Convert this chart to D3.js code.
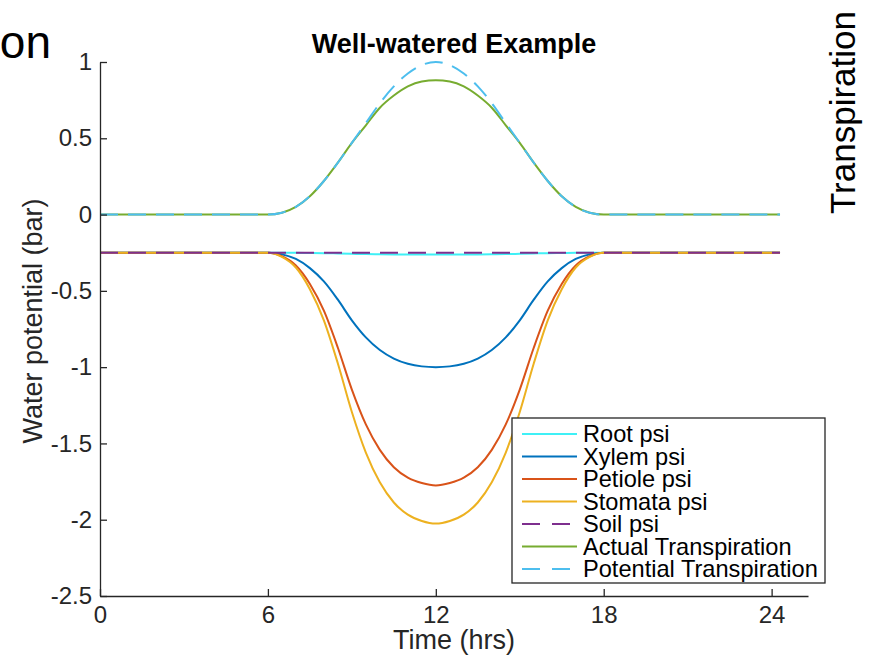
<!DOCTYPE html>
<html>
<head>
<meta charset="utf-8">
<script src="https://cdn.jsdelivr.net/npm/d3@7"></script>
<style>
  body { margin: 0; background: #fff; }
  svg { font-family: "Liberation Sans", Arial, Helvetica, sans-serif; }
  .axis path, .axis line { stroke: #262626; stroke-width: 1.3; }
  .axis text { fill: #262626; font-size: 24px; }
</style>
</head>
<body>
<div id="chart"></div>
<script>
// Data
var times = [0, 1, 2, 3, 4, 5, 6, 6.5, 7, 7.5, 8, 8.5, 9, 9.5, 10, 10.5, 11, 11.5, 12,
    12.5, 13, 13.5, 14, 14.5, 15, 15.5, 16, 16.5, 17, 17.5, 18, 19, 20, 21, 22, 23, 24, 24.3];

var rootPsi = [-0.25, -0.25, -0.25, -0.25, -0.25, -0.25,
    -0.25, -0.2502, -0.251, -0.252, -0.253, -0.255, -0.257, -0.259, -0.26, -0.261, -0.262, -0.262, -0.262,
    -0.262, -0.262, -0.261, -0.26, -0.259, -0.257, -0.255, -0.253, -0.252, -0.251, -0.2502, -0.25,
    -0.25, -0.25, -0.25, -0.25, -0.25, -0.25, -0.25];

var xylemPsi = [-0.25, -0.25, -0.25, -0.25, -0.25, -0.25,
    -0.25, -0.261, -0.291, -0.351, -0.438, -0.558, -0.693, -0.805, -0.888, -0.944, -0.978, -0.995, -1.0,
    -0.995, -0.978, -0.944, -0.888, -0.805, -0.693, -0.558, -0.438, -0.351, -0.291, -0.261, -0.25,
    -0.25, -0.25, -0.25, -0.25, -0.25, -0.25, -0.25];

var petiolePsi = [-0.25, -0.25, -0.25, -0.25, -0.25, -0.25,
    -0.25, -0.273, -0.334, -0.455, -0.63, -0.873, -1.147, -1.375, -1.542, -1.656, -1.724, -1.759, -1.775,
    -1.759, -1.724, -1.656, -1.542, -1.375, -1.147, -0.873, -0.63, -0.455, -0.334, -0.273, -0.25,
    -0.25, -0.25, -0.25, -0.25, -0.25, -0.25, -0.25];

var stomataPsi = [-0.25, -0.25, -0.25, -0.25, -0.25, -0.25,
    -0.25, -0.277, -0.347, -0.489, -0.693, -0.976, -1.294, -1.56, -1.755, -1.887, -1.967, -2.008, -2.025,
    -2.008, -1.967, -1.887, -1.755, -1.56, -1.294, -0.976, -0.693, -0.489, -0.347, -0.277, -0.25,
    -0.25, -0.25, -0.25, -0.25, -0.25, -0.25, -0.25];

var soilPsi = [-0.25, -0.25, -0.25, -0.25, -0.25, -0.25,
    -0.25, -0.25, -0.25, -0.25, -0.25, -0.25, -0.25, -0.25, -0.25, -0.25, -0.25, -0.25, -0.25,
    -0.25, -0.25, -0.25, -0.25, -0.25, -0.25, -0.25, -0.25, -0.25, -0.25, -0.25, -0.25,
    -0.25, -0.25, -0.25, -0.25, -0.25, -0.25, -0.25];

var actualT = [0, 0, 0, 0, 0, 0,
    0, 0.012, 0.05, 0.12, 0.22, 0.34, 0.47, 0.585, 0.70, 0.78, 0.84, 0.872, 0.88,
    0.872, 0.84, 0.78, 0.70, 0.585, 0.47, 0.34, 0.22, 0.12, 0.05, 0.012, 0,
    0, 0, 0, 0, 0, 0, 0];

var potentialT = [0, 0, 0, 0, 0, 0,
    0, 0.012, 0.05, 0.12, 0.22, 0.34, 0.47, 0.6, 0.73, 0.84, 0.925, 0.98, 1.0,
    0.98, 0.925, 0.84, 0.73, 0.6, 0.47, 0.34, 0.22, 0.12, 0.05, 0.012, 0,
    0, 0, 0, 0, 0, 0, 0];

var seriesNames = ["Root psi", "Xylem psi", "Petiole psi", "Stomata psi", "Soil psi",
    "Actual Transpiration", "Potential Transpiration"];
var seriesValues = [rootPsi, xylemPsi, petiolePsi, stomataPsi, soilPsi, actualT, potentialT];
var seriesColors = ["#3ff0f6", "#0072bd", "#d95319", "#edb120", "#7e2f8e", "#77ac30", "#4dbeee"];
var seriesDashed = [false, false, false, false, true, false, true];

var xTicks = [0, 6, 12, 18, 24];
var yTicks = [-2.5, -2, -1.5, -1, -0.5, 0, 0.5, 1];

// SVG area
var svgWidth = 871;
var svgHeight = 657;

var chartMargin = { top: 62, right: 63, bottom: 61, left: 100 };
var chartWidth = svgWidth - chartMargin.left - chartMargin.right;
var chartHeight = svgHeight - chartMargin.top - chartMargin.bottom;

var svg = d3.select("#chart")
    .append("svg")
    .attr("width", svgWidth)
    .attr("height", svgHeight);

// leftover labels cropped from neighbouring panels
svg.append("text")
    .attr("x", 51)
    .attr("y", 58)
    .attr("text-anchor", "end")
    .attr("font-size", "46px")
    .attr("fill", "#000")
    .text("on");

svg.append("text")
    .attr("transform", "translate(855, 214) rotate(-90)")
    .attr("font-size", "35px")
    .attr("fill", "#000")
    .text("Transpiration");

var chartGroup = svg.append("g")
    .attr("transform", `translate(${chartMargin.left}, ${chartMargin.top})`);

var xScale = d3.scaleLinear()
    .domain([0, 25.3])
    .range([0, chartWidth]);

var yScale = d3.scaleLinear()
    .domain([-2.5, 1])
    .range([chartHeight, 0]);

// axes, ticks pointing inward like matlab
var bottomAxis = d3.axisBottom(xScale)
    .tickValues(xTicks)
    .tickSizeInner(-7)
    .tickSizeOuter(0)
    .tickPadding(10)
    .tickFormat(d => d);

var leftAxis = d3.axisLeft(yScale)
    .tickValues(yTicks)
    .tickSizeInner(-7)
    .tickSizeOuter(0)
    .tickPadding(8)
    .tickFormat(d => String(d));

// lines
var line = d3.line()
    .x(d => xScale(d[0]))
    .y(d => yScale(d[1]))
    .curve(d3.curveMonotoneX);

seriesValues.forEach(function (vals, i) {
    var pts = times.map((t, j) => [t, vals[j]]);
    chartGroup.append("path")
        .datum(pts)
        .attr("d", line)
        .attr("fill", "none")
        .attr("stroke", seriesColors[i])
        .attr("stroke-width", 2)
        .attr("stroke-dasharray", seriesDashed[i] ? "18,10" : null);
});

chartGroup.append("g")
    .attr("class", "axis")
    .attr("transform", `translate(0, ${chartHeight})`)
    .call(bottomAxis);

chartGroup.append("g")
    .attr("class", "axis")
    .call(leftAxis);

// title and axis labels, centred on the axes box
chartGroup.append("text")
    .attr("x", chartWidth / 2)
    .attr("y", -9)
    .attr("text-anchor", "middle")
    .attr("font-size", "27px")
    .attr("font-weight", "bold")
    .attr("fill", "#000")
    .text("Well-watered Example");

chartGroup.append("text")
    .attr("x", chartWidth / 2)
    .attr("y", chartHeight + 53)
    .attr("text-anchor", "middle")
    .attr("font-size", "27px")
    .attr("fill", "#262626")
    .text("Time (hrs)");

chartGroup.append("text")
    .attr("transform", "rotate(-90)")
    .attr("x", -(chartHeight / 2) + 8)
    .attr("y", -58)
    .attr("text-anchor", "middle")
    .attr("font-size", "27px")
    .attr("fill", "#262626")
    .text("Water potential (bar)");

// legend
var legendGroup = svg.append("g")
    .attr("transform", "translate(512, 418)");

legendGroup.append("rect")
    .attr("width", 313)
    .attr("height", 165)
    .attr("fill", "#fff")
    .attr("stroke", "#262626")
    .attr("stroke-width", 1.3);

var rowH = 22.5;
seriesNames.forEach(function (name, i) {
    var yy = 16 + i * rowH;
    legendGroup.append("line")
        .attr("x1", 10)
        .attr("x2", 65)
        .attr("y1", yy)
        .attr("y2", yy)
        .attr("stroke", seriesColors[i])
        .attr("stroke-width", 2)
        .attr("stroke-dasharray", seriesDashed[i] ? "18,12" : null);
    legendGroup.append("text")
        .attr("x", 71)
        .attr("y", yy)
        .attr("dy", "0.36em")
        .attr("font-size", "23.6px")
        .attr("fill", "#000")
        .text(name);
});
</script>
</body>
</html>
